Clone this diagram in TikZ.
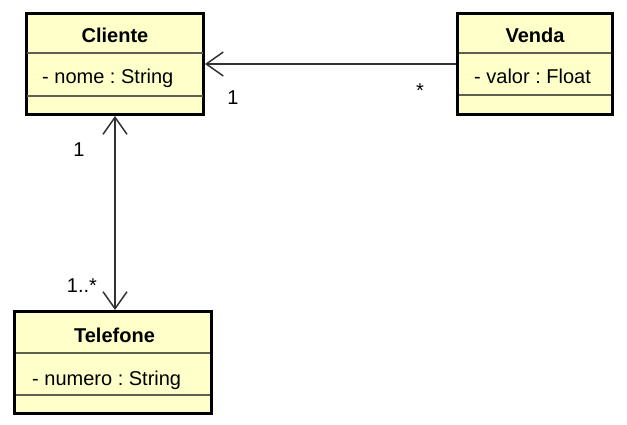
\documentclass[tikz,border=0pt]{standalone}
\usepackage{fontspec}
\setmainfont{Liberation Sans}
\usetikzlibrary{arrows.meta}
\definecolor{classfill}{RGB}{255,255,202}
\definecolor{sepline}{RGB}{96,96,80}
\definecolor{assocline}{RGB}{50,50,50}
\frenchspacing

\begin{document}
\begin{tikzpicture}[x=1pt, y=-1pt, every node/.style={font=\fontsize{20}{24}\selectfont, inner sep=0pt}]
	\tikzset{>={Straight Barb[length=17pt,width=24pt]}}
	\tikzset{classbox/.style={draw, line width=3pt, fill=classfill, minimum height=101pt},
		classname/.style={font=\fontsize{20}{24}\selectfont\bfseries, anchor=base},
		attr/.style={anchor=base west},
		compline/.style={draw=sepline, line width=2pt},
		assoc/.style={draw=assocline, line width=1.5pt}}
	\useasboundingbox (0,0) rectangle (627,425);
	% Cliente
	\node [classbox, minimum width=177pt] (cliente) at (115,64) {};
	\draw [compline] (27,53) -- (203,53);
	\draw [compline] (27,96) -- (203,96);
	\node [classname] (cliente-name) at (115,43) {Cliente};
	\node [attr] (cliente-attr) at (42,84) {- nome : String};
	% Venda
	\node [classbox, minimum width=155pt] (venda) at (535,64) {};
	\draw [compline] (459,53) -- (611,53);
	\draw [compline] (459,95) -- (611,95);
	\node [classname] (venda-name) at (535,43) {Venda};
	\node [attr] (venda-attr) at (474,84) {- valor : Float};
	% Telefone
	\node [classbox, minimum width=197pt, minimum height=102pt] (telefone) at (113,362.5) {};
	\draw [compline] (16,353) -- (210,353);
	\draw [compline] (16,395) -- (210,395);
	\node [classname] (telefone-name) at (114.5,342) {Telefone};
	\node [attr] (telefone-attr) at (32,385) {- numero : String};
	% associations
	\draw [assoc, ->] (venda) -- (cliente);
	\draw [assoc, <->] (cliente.south) -- (telefone.north -| cliente.south);
	\node [anchor=base] (mult-cv) at (233,105) {1};
	\node [anchor=base] (mult-vc) at (420,98) {*};
	\node [anchor=base] (mult-ct) at (79,157) {1};
	\node [anchor=base] (mult-tc) at (82,292) {1..*};
\end{tikzpicture}
\end{document}
